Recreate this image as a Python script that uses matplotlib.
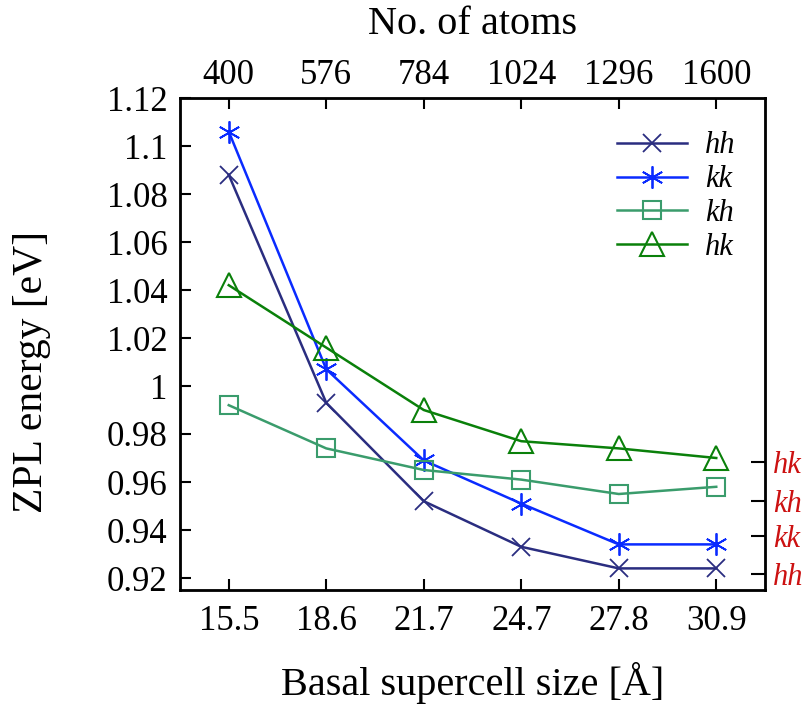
import matplotlib
matplotlib.use("Agg")
import matplotlib.pyplot as plt
import numpy as np

plt.rcParams['font.family'] = ['Liberation Serif', 'DejaVu Serif']

sizes = ['15.5', '18.6', '21.7', '24.7', '27.8', '30.9']
atoms = ['400', '576', '784', '1024', '1296', '1600']

hh = [1.088, 0.993, 0.952, 0.933, 0.924, 0.924]
kk = [1.106, 1.007, 0.969, 0.951, 0.934, 0.934]
kh = [0.992, 0.974, 0.965, 0.961, 0.955, 0.958]
hk = [1.042, 1.016, 0.990, 0.977, 0.974, 0.970]

right_pos = [0.9683, 0.9520, 0.9375, 0.9217]
right_labels = ['hk', 'kh', 'kk', 'hh']

x = np.arange(len(sizes))

fig = plt.figure(figsize=(8.05, 7.08), dpi=100)
ax = fig.add_axes([180 / 805, 1 - 590 / 708, 585 / 805, 492 / 708])

ax.plot(x, hh, color='#2a2d80', marker='x', ms=13, mew=1.3, lw=1.8, label='hh')
ax.plot(x, kk, color='#0a2bff', marker=(6, 2, 0), ms=16, mew=1.3, lw=1.8, label='kk')
ax.plot(x, kh, color='#3a9c6c', marker='s', ms=13, mfc='none', mew=1.5, lw=1.8, label='kh')
ax.plot(x, hk, color='#0a800a', marker='^', ms=17, mfc='none', mew=1.5, lw=1.8, label='hk')

ax.set_xlim(-0.5, 5.5)
ax.set_ylim(0.915, 1.12)
ax.set_xticks(x)
ax.set_xticklabels(sizes)
ax.set_yticks(np.arange(0.92, 1.121, 0.02))
ax.set_yticklabels(['0.92', '0.94', '0.96', '0.98', '1', '1.02', '1.04',
                    '1.06', '1.08', '1.1', '1.12'])
ax.tick_params(direction='in', length=8, width=1.5, labelsize=25)
ax.tick_params(axis='x', pad=11)
ax.tick_params(axis='y', pad=9, right=False)
for s in ax.spines.values():
    s.set_linewidth(2)

ax.set_xlabel('Basal supercell size [Å]', fontsize=29, labelpad=17)
ax.set_ylabel('ZPL energy [eV]', fontsize=30)
ax.yaxis.set_label_coords(-0.22, 0.443)

top = ax.twiny()
top.set_xlim(ax.get_xlim())
top.set_xticks(x)
top.set_xticklabels(atoms)
top.tick_params(direction='in', length=8, width=1.5, labelsize=25, pad=4)
top.set_xlabel('No. of atoms', fontsize=29, labelpad=18)

right = ax.twinx()
right.set_ylim(ax.get_ylim())
right.set_yticks(right_pos)
right.set_yticklabels(right_labels, color='#cc1111', style='italic')
right.tick_params(direction='in', length=10, width=1.5, labelsize=22, pad=6)

leg = ax.legend(loc='upper right', frameon=False, fontsize=22, handlelength=2.3,
                handletextpad=0.6, borderaxespad=0.5, labelspacing=0.16,
                bbox_to_anchor=(0.997, 0.988))
for t in leg.get_texts():
    t.set_style('italic')

fig.savefig('out.png', dpi=100)
